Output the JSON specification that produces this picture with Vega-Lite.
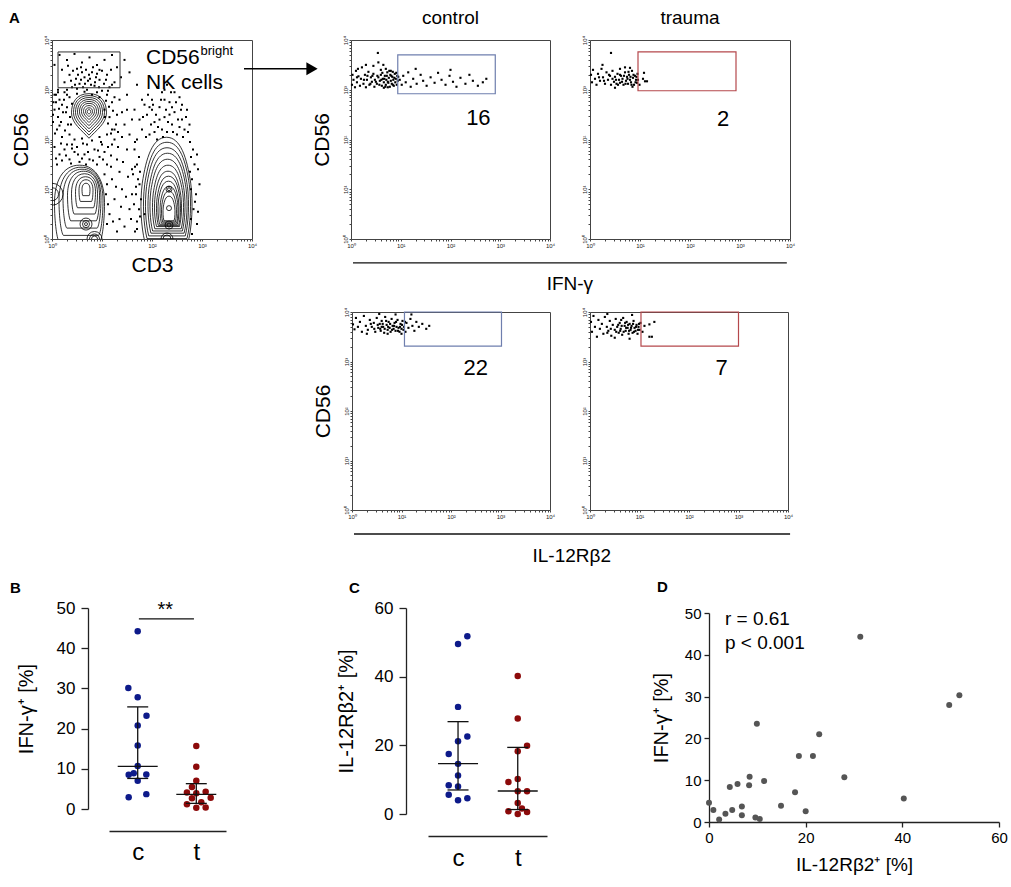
{
  "$schema": "https://vega.github.io/schema/vega-lite/v6.json",
  "padding": {"left": 8, "top": 8, "right": 5, "bottom": 5},
  "config": {
    "font": "Liberation Sans",
    "view": {"stroke": null},
    "axis": {"grid": false, "labelFont": "Liberation Sans", "titleFont": "Liberation Sans", "titleFontWeight": "normal", "labelColor": "#000", "titleColor": "#000", "domainColor": "#333", "tickColor": "#333"},
    "title": {"font": "Liberation Sans", "color": "#000"}
  },
  "datasets": {
    "ctrlIFN": [
      {"x":0.52,"y":3.12},{"x":0.55,"y":3.25},{"x":0.58,"y":3.18},{"x":0.6,"y":3.3},{"x":0.62,"y":3.08},{"x":0.64,"y":3.22},{"x":0.66,"y":3.15},{"x":0.68,"y":3.28},{"x":0.7,"y":3.1},{"x":0.71,"y":3.2},{"x":0.73,"y":3.35},{"x":0.75,"y":3.14},{"x":0.76,"y":3.24},{"x":0.78,"y":3.06},{"x":0.79,"y":3.3},{"x":0.8,"y":3.18},{"x":0.82,"y":3.12},{"x":0.83,"y":3.26},{"x":0.85,"y":3.2},{"x":0.86,"y":3.08},{"x":0.88,"y":3.32},{"x":0.89,"y":3.15},{"x":0.9,"y":3.22},{"x":0.92,"y":3.1},{"x":0.93,"y":3.28},{"x":0.94,"y":3.18},{"x":0.6,"y":3.4},{"x":0.7,"y":3.42},{"x":0.8,"y":3.38},{"x":0.66,"y":3.04},{"x":0.74,"y":3.05},{"x":0.84,"y":3.36},
      {"x":0.5,"y":3.16},{"x":0.53,"y":3.28},{"x":0.57,"y":3.1},{"x":0.61,"y":3.2},{"x":0.63,"y":3.34},{"x":0.67,"y":3.22},{"x":0.69,"y":3.06},{"x":0.72,"y":3.28},{"x":0.74,"y":3.16},{"x":0.77,"y":3.38},{"x":0.81,"y":3.28},{"x":0.84,"y":3.1},{"x":0.87,"y":3.24},{"x":0.91,"y":3.34},{"x":0.95,"y":3.26},{"x":0.43,"y":3.28},{"x":0.39,"y":3.12},{"x":0.33,"y":3.28},{"x":0.26,"y":3.2},{"x":0.12,"y":3.25},
      {"x":0.02,"y":3.1},{"x":0.03,"y":3.3},{"x":0.05,"y":3.2},{"x":0.08,"y":3.05},{"x":0.1,"y":3.38},{"x":0.12,"y":3.15},{"x":0.15,"y":3.27},{"x":0.18,"y":3.08},{"x":0.2,"y":3.22},{"x":0.22,"y":3.45},{"x":0.25,"y":3.12},{"x":0.28,"y":3.3},{"x":0.3,"y":3.05},{"x":0.32,"y":3.2},{"x":0.35,"y":3.36},{"x":0.37,"y":3.1},{"x":0.4,"y":3.25},{"x":0.42,"y":3.16},{"x":0.45,"y":3.32},{"x":0.47,"y":3.06},{"x":0.48,"y":3.2},{"x":0.3,"y":3.5},{"x":0.45,"y":3.48},{"x":0.55,"y":3.55},{"x":0.65,"y":3.5},{"x":0.54,"y":3.74},{"x":0.14,"y":3.42},
      {"x":0.98,"y":3.2},{"x":1.02,"y":3.1},{"x":1.05,"y":3.28},{"x":1.1,"y":3.15},{"x":1.15,"y":3.35},{"x":1.2,"y":3.06},{"x":1.25,"y":3.22},{"x":1.32,"y":3.12},{"x":1.4,"y":3.3},{"x":1.45,"y":3.18},{"x":1.52,"y":3.08},{"x":1.6,"y":3.25},{"x":1.68,"y":3.14},{"x":1.75,"y":3.34},{"x":1.82,"y":3.2},{"x":1.9,"y":3.1},{"x":1.98,"y":3.28},{"x":2.05,"y":3.16},{"x":2.12,"y":3.06},{"x":2.2,"y":3.24},{"x":2.3,"y":3.12},{"x":2.38,"y":3.3},{"x":2.45,"y":3.18},{"x":2.55,"y":3.08},{"x":2.65,"y":3.15},{"x":2.72,"y":3.22},{"x":1.3,"y":3.42},{"x":2.0,"y":3.4}
    ],
    "trIFN": [
      {"x":0.02,"y":3.3},{"x":0.04,"y":3.15},{"x":0.06,"y":3.4},{"x":0.1,"y":3.22},{"x":0.13,"y":3.1},{"x":0.16,"y":3.32},{"x":0.2,"y":3.18},{"x":0.23,"y":3.42},{"x":0.26,"y":3.25},{"x":0.3,"y":3.12},{"x":0.33,"y":3.35},{"x":0.36,"y":3.2},{"x":0.4,"y":3.28},{"x":0.42,"y":3.1},{"x":0.45,"y":3.38},{"x":0.48,"y":3.16},{"x":0.5,"y":3.26},{"x":0.53,"y":3.12},{"x":0.55,"y":3.32},{"x":0.58,"y":3.2},{"x":0.6,"y":3.14},{"x":0.62,"y":3.28},{"x":0.65,"y":3.22},{"x":0.67,"y":3.1},{"x":0.7,"y":3.35},{"x":0.72,"y":3.18},{"x":0.74,"y":3.26},{"x":0.76,"y":3.12},{"x":0.78,"y":3.3},{"x":0.8,"y":3.2},{"x":0.82,"y":3.15},{"x":0.84,"y":3.38},{"x":0.86,"y":3.24},{"x":0.88,"y":3.1},{"x":0.9,"y":3.28},{"x":0.92,"y":3.2},{"x":0.94,"y":3.14},{"x":0.95,"y":3.32},{"x":0.6,"y":3.42},{"x":0.7,"y":3.45},{"x":0.8,"y":3.44},{"x":0.42,"y":3.74},{"x":0.25,"y":3.5},{"x":0.85,"y":3.06},{"x":0.5,"y":3.04},
      {"x":0.52,"y":3.2},{"x":0.56,"y":3.1},{"x":0.6,"y":3.3},{"x":0.64,"y":3.16},{"x":0.68,"y":3.28},{"x":0.71,"y":3.12},{"x":0.75,"y":3.22},{"x":0.77,"y":3.36},{"x":0.81,"y":3.26},{"x":0.83,"y":3.1},{"x":0.87,"y":3.3},{"x":0.91,"y":3.15},{"x":0.93,"y":3.26},{"x":0.96,"y":3.2},{"x":0.45,"y":3.22},{"x":0.38,"y":3.3},{"x":0.28,"y":3.18},{"x":0.18,"y":3.25},
      {"x":1.06,"y":3.22},{"x":1.1,"y":3.17},{"x":1.14,"y":3.17},{"x":1.08,"y":3.34},{"x":0.99,"y":3.1}
    ],
    "ctrlIL": [
      {"x":0.02,"y":3.75},{"x":0.05,"y":3.65},{"x":0.08,"y":3.88},{"x":0.12,"y":3.7},{"x":0.16,"y":3.8},{"x":0.2,"y":3.6},{"x":0.24,"y":3.92},{"x":0.28,"y":3.72},{"x":0.32,"y":3.64},{"x":0.36,"y":3.84},{"x":0.4,"y":3.7},{"x":0.44,"y":3.78},{"x":0.47,"y":3.6},{"x":0.5,"y":3.88},{"x":0.53,"y":3.68},{"x":0.56,"y":3.76},{"x":0.58,"y":3.62},{"x":0.6,"y":3.82},{"x":0.63,"y":3.7},{"x":0.65,"y":3.58},{"x":0.67,"y":3.9},{"x":0.7,"y":3.74},{"x":0.72,"y":3.64},{"x":0.74,"y":3.8},{"x":0.76,"y":3.68},{"x":0.78,"y":3.6},{"x":0.8,"y":3.86},{"x":0.82,"y":3.72},{"x":0.84,"y":3.66},{"x":0.86,"y":3.78},{"x":0.88,"y":3.62},{"x":0.9,"y":3.7},{"x":0.92,"y":3.84},{"x":0.94,"y":3.68},{"x":0.96,"y":3.6},{"x":0.98,"y":3.76},{"x":1.0,"y":3.66},{"x":1.02,"y":3.82},{"x":1.05,"y":3.7},{"x":1.08,"y":3.6},{"x":1.1,"y":3.78},{"x":1.14,"y":3.68},{"x":1.18,"y":3.86},{"x":1.22,"y":3.72},{"x":1.26,"y":3.62},{"x":1.3,"y":3.8},{"x":1.35,"y":3.7},{"x":1.42,"y":3.76},{"x":1.5,"y":3.66},{"x":1.56,"y":3.72},{"x":0.88,"y":3.95},{"x":0.55,"y":3.96},{"x":1.2,"y":3.95},{"x":0.3,"y":3.56},{"x":0.72,"y":3.56},{"x":1.0,"y":3.56},
      {"x":0.52,"y":3.74},{"x":0.57,"y":3.66},{"x":0.62,"y":3.76},{"x":0.66,"y":3.66},{"x":0.69,"y":3.82},{"x":0.73,"y":3.7},{"x":0.77,"y":3.76},{"x":0.81,"y":3.64},{"x":0.85,"y":3.72},{"x":0.89,"y":3.8},{"x":0.93,"y":3.62},{"x":0.97,"y":3.7},{"x":1.01,"y":3.74},{"x":1.04,"y":3.64},{"x":1.07,"y":3.8},{"x":0.45,"y":3.66},{"x":0.38,"y":3.76},{"x":0.6,"y":3.7}
    ],
    "trIL": [
      {"x":0.02,"y":3.8},{"x":0.04,"y":3.6},{"x":0.07,"y":3.92},{"x":0.1,"y":3.7},{"x":0.14,"y":3.5},{"x":0.17,"y":3.84},{"x":0.2,"y":3.66},{"x":0.24,"y":3.76},{"x":0.27,"y":3.56},{"x":0.3,"y":3.9},{"x":0.34,"y":3.7},{"x":0.37,"y":3.62},{"x":0.4,"y":3.82},{"x":0.43,"y":3.52},{"x":0.46,"y":3.74},{"x":0.5,"y":3.64},{"x":0.52,"y":3.86},{"x":0.55,"y":3.7},{"x":0.58,"y":3.58},{"x":0.6,"y":3.78},{"x":0.62,"y":3.66},{"x":0.65,"y":3.54},{"x":0.67,"y":3.88},{"x":0.7,"y":3.72},{"x":0.72,"y":3.62},{"x":0.74,"y":3.8},{"x":0.76,"y":3.68},{"x":0.78,"y":3.56},{"x":0.8,"y":3.76},{"x":0.82,"y":3.64},{"x":0.84,"y":3.72},{"x":0.86,"y":3.58},{"x":0.88,"y":3.82},{"x":0.9,"y":3.68},{"x":0.92,"y":3.62},{"x":0.94,"y":3.74},{"x":0.96,"y":3.56},{"x":0.98,"y":3.7},{"x":1.0,"y":3.64},{"x":1.02,"y":3.78},{"x":1.06,"y":3.6},{"x":1.1,"y":3.72},{"x":1.2,"y":3.75},{"x":1.3,"y":3.8},{"x":1.2,"y":3.5},{"x":1.25,"y":3.5},{"x":0.5,"y":3.48},{"x":0.8,"y":3.46},{"x":0.35,"y":3.96},{"x":0.85,"y":3.94},
      {"x":0.53,"y":3.6},{"x":0.57,"y":3.74},{"x":0.61,"y":3.62},{"x":0.64,"y":3.72},{"x":0.68,"y":3.6},{"x":0.71,"y":3.78},{"x":0.73,"y":3.68},{"x":0.77,"y":3.74},{"x":0.79,"y":3.62},{"x":0.83,"y":3.68},{"x":0.87,"y":3.76},{"x":0.89,"y":3.6},{"x":0.93,"y":3.7},{"x":0.97,"y":3.64},{"x":0.99,"y":3.76},{"x":0.42,"y":3.66},{"x":0.35,"y":3.58},{"x":0.63,"y":3.84}
    ],
    "aDots": [
      {"x":0.15,"y":3.7},{"x":0.3,"y":3.6},{"x":0.45,"y":3.72},{"x":0.6,"y":3.55},{"x":0.75,"y":3.65},{"x":0.9,"y":3.5},{"x":1.05,"y":3.6},{"x":1.2,"y":3.7},{"x":1.3,"y":3.45},{"x":0.2,"y":3.4},{"x":0.35,"y":3.3},{"x":0.5,"y":3.42},{"x":0.65,"y":3.25},{"x":0.8,"y":3.35},{"x":0.95,"y":3.2},{"x":1.1,"y":3.3},{"x":1.25,"y":3.15},{"x":0.25,"y":3.15},{"x":0.4,"y":3.05},{"x":0.55,"y":3.12},{"x":0.7,"y":3.0},{"x":0.85,"y":3.08},{"x":1.0,"y":2.98},{"x":1.15,"y":3.05},{"x":0.6,"y":3.35},{"x":0.72,"y":3.18},{"x":0.88,"y":3.25},{"x":0.48,"y":3.22},{"x":0.78,"y":3.1},{"x":0.62,"y":3.05},{"x":0.95,"y":3.4},{"x":1.38,"y":3.25},{"x":0.12,"y":3.0},{"x":0.05,"y":3.5},{"x":1.45,"y":3.6},{"x":1.55,"y":3.35},{"x":1.7,"y":3.1},
      {"x":0.32,"y":3.48},{"x":0.42,"y":3.38},{"x":0.52,"y":3.3},{"x":0.58,"y":3.45},{"x":0.68,"y":3.4},{"x":0.74,"y":3.3},{"x":0.82,"y":3.45},{"x":0.9,"y":3.32},{"x":1.0,"y":3.38},{"x":1.08,"y":3.2},{"x":1.18,"y":3.4},{"x":0.38,"y":3.18},{"x":0.46,"y":3.1},{"x":0.58,"y":3.2},{"x":0.66,"y":3.12},{"x":0.76,"y":3.22},{"x":0.86,"y":3.15},{"x":0.94,"y":3.05},{"x":1.04,"y":3.12},{"x":1.2,"y":3.1},{"x":0.3,"y":3.0},{"x":0.5,"y":3.02},{"x":0.9,"y":2.95},{"x":1.12,"y":2.98},
      {"x":0.05,"y":2.9},{"x":0.15,"y":2.8},{"x":0.25,"y":2.95},{"x":0.35,"y":2.85},{"x":0.5,"y":2.92},{"x":0.65,"y":2.96},{"x":0.8,"y":2.9},{"x":0.95,"y":2.85},{"x":1.1,"y":2.9},{"x":1.2,"y":2.75},{"x":0.05,"y":2.6},{"x":0.12,"y":2.45},{"x":0.2,"y":2.7},{"x":0.28,"y":2.55},{"x":0.32,"y":2.3},{"x":0.1,"y":2.2},{"x":0.2,"y":2.05},{"x":0.35,"y":2.1},{"x":0.45,"y":2.0},{"x":1.05,"y":2.6},{"x":1.15,"y":2.45},{"x":1.2,"y":2.2},{"x":1.1,"y":2.1},{"x":1.25,"y":2.0},{"x":0.95,"y":2.05},{"x":0.8,"y":1.98},{"x":0.6,"y":2.02},{"x":0.4,"y":1.9},{"x":1.3,"y":2.5},{"x":1.35,"y":2.8},{"x":0.02,"y":2.35},{"x":0.08,"y":2.75},
      {"x":0.02,"y":2.5},{"x":0.08,"y":2.9},{"x":0.14,"y":2.62},{"x":0.18,"y":2.35},{"x":0.24,"y":2.8},{"x":0.3,"y":2.65},{"x":0.36,"y":2.45},{"x":0.4,"y":2.72},{"x":0.06,"y":2.12},{"x":0.15,"y":2.28},{"x":0.26,"y":2.18},{"x":0.38,"y":2.3},{"x":0.03,"y":2.75},{"x":0.22,"y":2.55},{"x":0.12,"y":2.95},{"x":0.3,"y":2.9},
      {"x":1.08,"y":2.78},{"x":1.14,"y":2.66},{"x":1.22,"y":2.58},{"x":1.12,"y":2.32},{"x":1.28,"y":2.3},{"x":1.18,"y":2.12},{"x":1.32,"y":2.15},{"x":1.06,"y":2.45},{"x":1.25,"y":2.85},
      {"x":0.05,"y":1.85},{"x":0.15,"y":1.7},{"x":0.25,"y":1.8},{"x":0.35,"y":1.6},{"x":0.45,"y":1.75},{"x":0.55,"y":1.55},{"x":0.65,"y":1.7},{"x":0.75,"y":1.6},{"x":0.85,"y":1.8},{"x":0.95,"y":1.65},{"x":1.05,"y":1.75},{"x":0.1,"y":1.5},{"x":0.3,"y":1.9},{"x":0.5,"y":1.85},{"x":0.7,"y":1.9},{"x":0.9,"y":1.5},{"x":1.1,"y":1.5},{"x":0.2,"y":1.58},{"x":0.6,"y":1.62},{"x":1.0,"y":1.9},
      {"x":0.08,"y":1.62},{"x":0.18,"y":1.92},{"x":0.28,"y":1.68},{"x":0.4,"y":1.82},{"x":0.52,"y":1.7},{"x":0.62,"y":1.92},{"x":0.72,"y":1.75},{"x":0.82,"y":1.58},{"x":0.92,"y":1.78},{"x":1.02,"y":1.6},{"x":1.12,"y":1.85},{"x":0.38,"y":1.52},{"x":0.68,"y":1.5},{"x":0.98,"y":1.95},{"x":1.18,"y":1.68},
      {"x":1.2,"y":1.2},{"x":1.25,"y":0.8},{"x":1.3,"y":1.6},{"x":1.35,"y":0.4},{"x":1.4,"y":1.0},{"x":1.45,"y":2.3},{"x":1.5,"y":1.8},{"x":1.55,"y":0.6},{"x":1.6,"y":1.4},{"x":1.65,"y":2.6},{"x":1.7,"y":0.2},{"x":1.7,"y":2.0},{"x":1.75,"y":1.1},{"x":1.5,"y":2.9},{"x":1.4,"y":2.55},{"x":1.15,"y":0.5},{"x":1.3,"y":0.15},{"x":1.6,"y":0.9},{"x":1.45,"y":0.25},{"x":1.2,"y":1.9},{"x":1.8,"y":2.8},{"x":1.85,"y":0.5},{"x":1.1,"y":1.1},{"x":1.35,"y":1.35},
      {"x":1.12,"y":0.7},{"x":1.18,"y":1.45},{"x":1.22,"y":0.35},{"x":1.28,"y":1.05},{"x":1.32,"y":1.85},{"x":1.38,"y":0.65},{"x":1.42,"y":1.55},{"x":1.48,"y":0.85},{"x":1.52,"y":1.25},{"x":1.55,"y":2.1},{"x":1.58,"y":0.4},{"x":1.25,"y":2.2},{"x":1.4,"y":2.05},{"x":1.6,"y":2.4},{"x":1.5,"y":2.6},
      {"x":1.8,"y":2.2},{"x":1.9,"y":2.5},{"x":1.95,"y":2.1},{"x":2.0,"y":2.8},{"x":2.05,"y":2.35},{"x":2.1,"y":2.0},{"x":2.15,"y":2.65},{"x":2.2,"y":2.95},{"x":2.25,"y":2.45},{"x":2.3,"y":2.15},{"x":2.35,"y":2.75},{"x":2.4,"y":2.3},{"x":2.45,"y":2.55},{"x":2.5,"y":2.1},{"x":2.55,"y":2.85},{"x":2.6,"y":2.4},{"x":2.65,"y":2.2},{"x":2.7,"y":2.6},{"x":2.1,"y":3.05},{"x":2.3,"y":3.1},{"x":2.45,"y":2.95},{"x":2.0,"y":2.6},{"x":2.2,"y":2.2},{"x":2.35,"y":2.5},{"x":1.85,"y":2.7},{"x":1.75,"y":2.4},{"x":2.75,"y":2.3},{"x":2.6,"y":2.7},{"x":2.25,"y":2.8},{"x":2.05,"y":2.15},
      {"x":1.82,"y":2.45},{"x":1.88,"y":2.05},{"x":1.92,"y":2.9},{"x":1.98,"y":2.3},{"x":2.02,"y":2.7},{"x":2.08,"y":2.5},{"x":2.12,"y":2.25},{"x":2.18,"y":2.8},{"x":2.22,"y":2.05},{"x":2.28,"y":2.6},{"x":2.32,"y":2.35},{"x":2.38,"y":2.95},{"x":2.42,"y":2.15},{"x":2.48,"y":2.75},{"x":2.52,"y":2.4},{"x":2.58,"y":2.6},{"x":2.62,"y":2.05},{"x":2.68,"y":2.45},{"x":2.72,"y":2.15},{"x":2.15,"y":2.4},{"x":2.4,"y":2.65},{"x":2.25,"y":3.0},{"x":1.95,"y":2.65},{"x":2.55,"y":2.25},
      {"x":1.65,"y":1.8},{"x":1.7,"y":1.5},{"x":1.72,"y":1.2},{"x":1.68,"y":0.9},{"x":1.74,"y":0.6},{"x":1.7,"y":0.35},{"x":2.82,"y":1.8},{"x":2.85,"y":1.5},{"x":2.8,"y":1.2},{"x":2.88,"y":0.9},{"x":2.83,"y":0.6},{"x":2.9,"y":0.3},{"x":2.95,"y":1.1},{"x":1.62,"y":1.3},{"x":1.08,"y":0.9},{"x":1.1,"y":0.3},{"x":1.05,"y":1.3},
      {"x":1.66,"y":1.95},{"x":1.74,"y":1.65},{"x":1.66,"y":1.45},{"x":1.76,"y":1.35},{"x":1.68,"y":1.05},{"x":1.78,"y":0.8},{"x":1.64,"y":0.7},{"x":1.76,"y":0.45},{"x":1.66,"y":0.15},{"x":2.76,"y":1.95},{"x":2.78,"y":1.65},{"x":2.9,"y":1.7},{"x":2.76,"y":1.35},{"x":2.92,"y":1.4},{"x":2.78,"y":1.0},{"x":2.86,"y":0.75},{"x":2.78,"y":0.4},{"x":2.92,"y":0.55},{"x":2.8,"y":0.1}
    ],
    "contours": [
      {"blob":"nk","x":0.74,"y":2.535,"r":0.35},{"blob":"nk","x":0.74,"y":2.54,"r":0.31},{"blob":"nk","x":0.74,"y":2.545,"r":0.27},{"blob":"nk","x":0.74,"y":2.55,"r":0.23},{"blob":"nk","x":0.74,"y":2.555,"r":0.19},{"blob":"nk","x":0.74,"y":2.56,"r":0.15},{"blob":"nk","x":0.74,"y":2.56,"r":0.11},{"blob":"nk","x":0.74,"y":2.56,"r":0.07},{"blob":"nk","x":0.74,"y":2.56,"r":0.035},
      {"blob":"ll","x":0.55,"y":0.73,"r":0.5},{"blob":"ll","x":0.58,"y":0.78,"r":0.44},{"blob":"ll","x":0.6,"y":0.83,"r":0.38},{"blob":"ll","x":0.63,"y":0.88,"r":0.32},{"blob":"ll","x":0.65,"y":0.92,"r":0.26},{"blob":"ll","x":0.67,"y":0.95,"r":0.2},{"blob":"ll","x":0.68,"y":0.98,"r":0.14},{"blob":"ll","x":0.68,"y":1.0,"r":0.08},
      {"blob":"t","x":2.29,"y":1.02,"r":0.51},{"blob":"t","x":2.3,"y":1.0,"r":0.47},{"blob":"t","x":2.3,"y":0.97,"r":0.43},{"blob":"t","x":2.31,"y":0.94,"r":0.39},{"blob":"t","x":2.31,"y":0.9,"r":0.35},{"blob":"t","x":2.32,"y":0.86,"r":0.31},{"blob":"t","x":2.32,"y":0.82,"r":0.27},{"blob":"t","x":2.33,"y":0.78,"r":0.24},{"blob":"t","x":2.33,"y":0.74,"r":0.21},{"blob":"t","x":2.34,"y":0.7,"r":0.18},{"blob":"t","x":2.34,"y":0.66,"r":0.15},{"blob":"t","x":2.34,"y":0.62,"r":0.12},
      {"blob":"round","x":2.34,"y":1.0,"r":0.06},{"blob":"round","x":2.34,"y":1.0,"r":0.03},{"blob":"round","x":2.34,"y":0.28,"r":0.08},{"blob":"round","x":2.34,"y":0.28,"r":0.04},{"blob":"round","x":2.34,"y":0.62,"r":0.05},{"blob":"round","x":2.3,"y":0.0,"r":0.12},{"blob":"round","x":2.3,"y":0.0,"r":0.08},
      {"blob":"round","x":0.68,"y":0.3,"r":0.12},{"blob":"round","x":0.68,"y":0.3,"r":0.07},{"blob":"round","x":0.68,"y":0.3,"r":0.03},{"blob":"round","x":0.0,"y":0.9,"r":0.22},{"blob":"round","x":0.0,"y":0.9,"r":0.13},{"blob":"round","x":0.85,"y":0.0,"r":0.15},{"blob":"round","x":0.85,"y":0.0,"r":0.1},{"blob":"round","x":0.85,"y":0.0,"r":0.06}
    ],
    "gates": [
      {"panel":"A","x":0.12,"x2":1.36,"y":3.04,"y2":3.76},
      {"panel":"ctrlIFN","x":0.94,"x2":2.9,"y":2.92,"y2":3.7},
      {"panel":"trIFN","x":0.96,"x2":2.92,"y":2.98,"y2":3.76},
      {"panel":"ctrlIL","x":1.06,"x2":3.02,"y":3.31,"y2":4.0},
      {"panel":"trIL","x":1.03,"x2":3.0,"y":3.31,"y2":4.0}
    ],
    "gateLabels": [
      {"panel":"ctrlIFN","x":2.56,"y":2.44,"label":"16"},
      {"panel":"trIFN","x":2.66,"y":2.42,"label":"2"},
      {"panel":"ctrlIL","x":2.5,"y":2.87,"label":"22"},
      {"panel":"trIL","x":2.66,"y":2.87,"label":"7"}
    ],
    "bDots": [
      {"group":"c","pos":1.0,"val":44.2},{"group":"c","pos":0.84,"val":30.1},{"group":"c","pos":1.0,"val":27.8},{"group":"c","pos":1.15,"val":23.2},{"group":"c","pos":1.0,"val":20.8},{"group":"c","pos":1.0,"val":15.8},{"group":"c","pos":1.0,"val":10.7},{"group":"c","pos":0.846,"val":8.5},{"group":"c","pos":0.932,"val":8.9},{"group":"c","pos":1.147,"val":8.6},{"group":"c","pos":1.0,"val":7.0},{"group":"c","pos":0.846,"val":2.9},{"group":"c","pos":1.147,"val":3.7},
      {"group":"t","pos":2.0,"val":15.7},{"group":"t","pos":2.0,"val":10.5},{"group":"t","pos":2.0,"val":7.0},{"group":"t","pos":1.926,"val":5.5},{"group":"t","pos":1.84,"val":4.1},{"group":"t","pos":2.16,"val":4.3},{"group":"t","pos":2.0,"val":3.9},{"group":"t","pos":1.926,"val":2.7},{"group":"t","pos":2.246,"val":2.8},{"group":"t","pos":2.085,"val":1.7},{"group":"t","pos":1.84,"val":1.2},{"group":"t","pos":2.0,"val":0.3},{"group":"t","pos":2.16,"val":0.4}
    ],
    "bStats": [
      {"group":"c","pos":1,"median":10.6,"q1":7.6,"q3":25.4},
      {"group":"t","pos":2,"median":3.65,"q1":1.4,"q3":6.3}
    ],
    "cDots": [
      {"group":"c","pos":1.156,"val":51.8},{"group":"c","pos":1.0,"val":49.5},{"group":"c","pos":1.0,"val":31.2},{"group":"c","pos":1.156,"val":22.6},{"group":"c","pos":1.0,"val":21.2},{"group":"c","pos":0.844,"val":17.5},{"group":"c","pos":1.0,"val":14.6},{"group":"c","pos":1.0,"val":11.2},{"group":"c","pos":0.844,"val":8.4},{"group":"c","pos":1.0,"val":8.0},{"group":"c","pos":0.844,"val":5.6},{"group":"c","pos":1.0,"val":4.0},{"group":"c","pos":1.156,"val":4.6},
      {"group":"t","pos":2.0,"val":40.2},{"group":"t","pos":2.0,"val":27.8},{"group":"t","pos":2.156,"val":19.9},{"group":"t","pos":2.0,"val":18.3},{"group":"t","pos":2.0,"val":10.2},{"group":"t","pos":1.844,"val":9.3},{"group":"t","pos":2.0,"val":6.6},{"group":"t","pos":2.156,"val":6.6},{"group":"t","pos":2.0,"val":3.2},{"group":"t","pos":1.844,"val":0.8},{"group":"t","pos":2.0,"val":0.0},{"group":"t","pos":2.156,"val":0.6},{"group":"t","pos":2.07,"val":1.6}
    ],
    "cStats": [
      {"group":"c","pos":1,"median":14.7,"q1":7.0,"q3":26.9},
      {"group":"t","pos":2,"median":6.7,"q1":1.3,"q3":19.4}
    ],
    "dDots": [
      {"il":0,"ifn":4.6},{"il":0.9,"ifn":2.9},{"il":2.1,"ifn":0.6},{"il":3.4,"ifn":2.0},{"il":4.3,"ifn":8.4},{"il":4.8,"ifn":2.9},{"il":5.9,"ifn":9.1},{"il":6.8,"ifn":3.7},{"il":6.8,"ifn":1.6},{"il":8.3,"ifn":8.8},{"il":8.4,"ifn":10.8},{"il":9.6,"ifn":1.1},{"il":9.9,"ifn":23.5},{"il":10.5,"ifn":0.7},{"il":11.4,"ifn":9.8},{"il":14.9,"ifn":3.9},{"il":17.8,"ifn":7.1},{"il":18.6,"ifn":15.8},{"il":20.0,"ifn":2.6},{"il":21.5,"ifn":15.8},{"il":22.8,"ifn":21.0},{"il":28.0,"ifn":10.7},{"il":31.3,"ifn":44.3},{"il":40.3,"ifn":5.6},{"il":49.7,"ifn":28.0},{"il":51.8,"ifn":30.3}
    ]
  },
  "spacing": 13,
  "vconcat": [
    {
      "spacing": 11,
      "vconcat": [
        {
          "bounds": "flush",
          "spacing": 40,
          "hconcat": [
            {
              "width": 200,
              "height": 199,
              "title": {"text": "A", "anchor": "start", "frame": "group", "dx": -43, "fontSize": 15, "fontWeight": "bold", "offset": 9},
              "view": {"stroke": "#444", "strokeWidth": 1},
              "encoding": {
                "x": {"field": "x", "type": "quantitative", "scale": {"domain": [0, 4], "nice": false, "zero": false}, "title": "CD3",
                  "axis": {"values": [0,0.301,0.477,0.602,0.699,0.778,0.845,0.903,0.954,1,1.301,1.477,1.602,1.699,1.778,1.845,1.903,1.954,2,2.301,2.477,2.602,2.699,2.778,2.845,2.903,2.954,3,3.301,3.477,3.602,3.699,3.778,3.845,3.903,3.954,4], "labelExpr": "datum.value % 1 === 0 ? '10' + ['⁰','¹','²','³','⁴'][datum.value] : ''", "labelFontSize": 6, "labelColor": "#222", "tickSize": 2, "tickColor": "#444", "labelPadding": 1, "domain": false, "labelFlush": false, "labelOverlap": false, "titleFontSize": 21, "titlePadding": 6}},
                "y": {"field": "y", "type": "quantitative", "scale": {"domain": [0, 4], "nice": false, "zero": false}, "title": "CD56",
                  "axis": {"values": [0,0.301,0.477,0.602,0.699,0.778,0.845,0.903,0.954,1,1.301,1.477,1.602,1.699,1.778,1.845,1.903,1.954,2,2.301,2.477,2.602,2.699,2.778,2.845,2.903,2.954,3,3.301,3.477,3.602,3.699,3.778,3.845,3.903,3.954,4], "labelExpr": "datum.value % 1 === 0 ? '10' + ['⁰','¹','²','³','⁴'][datum.value] : ''", "labelFontSize": 6, "labelColor": "#222", "tickSize": 2, "tickColor": "#444", "labelPadding": 1, "domain": false, "labelAngle": 270, "labelAlign": "center", "labelBaseline": "bottom", "labelFlush": false, "labelOverlap": false, "titleFontSize": 21, "titlePadding": 12}}
              },
              "layer": [
                {"data": {"name": "aDots"}, "mark": {"type": "point", "shape": "square", "filled": true, "size": 4, "color": "#000", "opacity": 1}},
                {"data": {"name": "gates"}, "transform": [{"filter": "datum.panel === 'A'"}], "mark": {"type": "rect", "fillOpacity": 0, "stroke": "#333", "strokeWidth": 1}, "encoding": {"x2": {"field": "x2"}, "y2": {"field": "y2"}}},
                {"data": {"name": "contours"}, "transform": [{"filter": "datum.blob === 'nk'"}], "mark": {"type": "point", "shape": "M0,-1.1C0.75,-1.1 1,-0.55 1,0C1,0.6 0.4,1 0,1.45C-0.4,1 -1,0.6 -1,0C-1,-0.55 -0.75,-1.1 0,-1.1Z", "filled": false, "color": "#000", "strokeWidth": 0.8, "opacity": 1, "clip": true},
                  "encoding": {"size": {"field": "r", "type": "quantitative", "scale": {"type": "pow", "exponent": 2, "domain": [0, 1], "range": [0, 10000]}, "legend": null}}},
                {"data": {"name": "contours"}, "transform": [{"filter": "datum.blob === 'll'"}], "mark": {"type": "point", "shape": "M0,-1.5C0.7,-1.5 1,-0.8 1,0C1,0.8 0.9,1.5 0.8,1.6L-0.8,1.6C-0.9,1.5 -1,0.8 -1,0C-1,-0.8 -0.7,-1.5 0,-1.5Z", "filled": false, "color": "#000", "strokeWidth": 0.8, "opacity": 1, "clip": true},
                  "encoding": {"size": {"field": "r", "type": "quantitative", "scale": {"type": "pow", "exponent": 2, "domain": [0, 1], "range": [0, 10000]}, "legend": null}}},
                {"data": {"name": "contours"}, "transform": [{"filter": "datum.blob === 't'"}], "mark": {"type": "point", "shape": "M0,-2C0.55,-2 0.8,-1.2 0.95,-0.2C1.05,0.6 1,1.5 0.85,2.1L-0.85,2.1C-1,1.5 -1.05,0.6 -0.95,-0.2C-0.8,-1.2 -0.55,-2 0,-2Z", "filled": false, "color": "#000", "strokeWidth": 0.8, "opacity": 1, "clip": true},
                  "encoding": {"size": {"field": "r", "type": "quantitative", "scale": {"type": "pow", "exponent": 2, "domain": [0, 1], "range": [0, 10000]}, "legend": null}}},
                {"data": {"name": "contours"}, "transform": [{"filter": "datum.blob === 'round'"}], "mark": {"type": "point", "shape": "circle", "filled": false, "color": "#000", "strokeWidth": 0.8, "opacity": 1, "clip": true},
                  "encoding": {"size": {"field": "r", "type": "quantitative", "scale": {"type": "pow", "exponent": 2, "domain": [0, 1], "range": [0, 10000]}, "legend": null}}},
                {"data": {"values": [{"x": 1.88, "y": 3.64, "label": "CD56"}, {"x": 1.88, "y": 3.14, "label": "NK cells"}]}, "mark": {"type": "text", "align": "left", "baseline": "middle", "fontSize": 21}, "encoding": {"text": {"field": "label"}}},
                {"data": {"values": [{"x": 2.97, "y": 3.78, "label": "bright"}]}, "mark": {"type": "text", "align": "left", "baseline": "middle", "fontSize": 13}, "encoding": {"text": {"field": "label"}}},
                {"data": {"values": [{"x": 3.84, "x2": 5.1, "y": 3.42}]}, "mark": {"type": "rule", "color": "#000", "strokeWidth": 1.5}, "encoding": {"x2": {"field": "x2"}}},
                {"data": {"values": [{"x": 5.2, "y": 3.42}]}, "mark": {"type": "point", "shape": "triangle-right", "filled": true, "color": "#000", "size": 170, "opacity": 1}}
              ]
            },
            {"width": 19, "height": 1, "data": {"values": [{"v": 0}]}, "mark": {"type": "point", "opacity": 0}},
            {
              "width": 199,
              "height": 199,
              "title": {"text": "control", "fontSize": 19, "fontWeight": "normal", "offset": 7},
              "view": {"stroke": "#444", "strokeWidth": 1},
              "data": {"name": "ctrlIFN"},
              "encoding": {
                "x": {"field": "x", "type": "quantitative", "scale": {"domain": [0, 4], "nice": false, "zero": false}, "title": null,
                  "axis": {"values": [0,0.301,0.477,0.602,0.699,0.778,0.845,0.903,0.954,1,1.301,1.477,1.602,1.699,1.778,1.845,1.903,1.954,2,2.301,2.477,2.602,2.699,2.778,2.845,2.903,2.954,3,3.301,3.477,3.602,3.699,3.778,3.845,3.903,3.954,4], "labelExpr": "datum.value % 1 === 0 ? '10' + ['⁰','¹','²','³','⁴'][datum.value] : ''", "labelFontSize": 6, "labelColor": "#222", "tickSize": 2, "tickColor": "#444", "labelPadding": 1, "domain": false, "labelFlush": false, "labelOverlap": false}},
                "y": {"field": "y", "type": "quantitative", "scale": {"domain": [0, 4], "nice": false, "zero": false}, "title": "CD56",
                  "axis": {"values": [0,0.301,0.477,0.602,0.699,0.778,0.845,0.903,0.954,1,1.301,1.477,1.602,1.699,1.778,1.845,1.903,1.954,2,2.301,2.477,2.602,2.699,2.778,2.845,2.903,2.954,3,3.301,3.477,3.602,3.699,3.778,3.845,3.903,3.954,4], "labelExpr": "datum.value % 1 === 0 ? '10' + ['⁰','¹','²','³','⁴'][datum.value] : ''", "labelFontSize": 6, "labelColor": "#222", "tickSize": 2, "tickColor": "#444", "labelPadding": 1, "domain": false, "labelAngle": 270, "labelAlign": "center", "labelBaseline": "bottom", "labelFlush": false, "labelOverlap": false, "titleFontSize": 21, "titlePadding": 10}}
              },
              "layer": [
                {"mark": {"type": "point", "shape": "square", "filled": true, "size": 4.5, "color": "#000", "opacity": 1}},
                {"data": {"name": "gates"}, "transform": [{"filter": "datum.panel === 'ctrlIFN'"}], "mark": {"type": "rect", "fillOpacity": 0, "stroke": "#6f7fae", "strokeWidth": 1.2}, "encoding": {"x2": {"field": "x2"}, "y2": {"field": "y2"}}},
                {"data": {"name": "gateLabels"}, "transform": [{"filter": "datum.panel === 'ctrlIFN'"}], "mark": {"type": "text", "fontSize": 22, "baseline": "middle"}, "encoding": {"text": {"field": "label"}}},
                {"data": {"values": [{"x": 0.04, "x2": 8.76, "y": -0.48}]}, "mark": {"type": "rule", "color": "#111", "strokeWidth": 1.3}, "encoding": {"x2": {"field": "x2"}}},
                {"data": {"values": [{"x": 4.4, "y": -0.9, "label": "IFN-γ"}]}, "mark": {"type": "text", "fontSize": 19, "baseline": "middle"}, "encoding": {"text": {"field": "label"}}}
              ]
            },
            {
              "width": 200,
              "height": 199,
              "title": {"text": "trauma", "fontSize": 19, "fontWeight": "normal", "offset": 7},
              "view": {"stroke": "#444", "strokeWidth": 1},
              "data": {"name": "trIFN"},
              "encoding": {
                "x": {"field": "x", "type": "quantitative", "scale": {"domain": [0, 4], "nice": false, "zero": false}, "title": null,
                  "axis": {"values": [0,0.301,0.477,0.602,0.699,0.778,0.845,0.903,0.954,1,1.301,1.477,1.602,1.699,1.778,1.845,1.903,1.954,2,2.301,2.477,2.602,2.699,2.778,2.845,2.903,2.954,3,3.301,3.477,3.602,3.699,3.778,3.845,3.903,3.954,4], "labelExpr": "datum.value % 1 === 0 ? '10' + ['⁰','¹','²','³','⁴'][datum.value] : ''", "labelFontSize": 6, "labelColor": "#222", "tickSize": 2, "tickColor": "#444", "labelPadding": 1, "domain": false, "labelFlush": false, "labelOverlap": false}},
                "y": {"field": "y", "type": "quantitative", "scale": {"domain": [0, 4], "nice": false, "zero": false}, "title": null,
                  "axis": {"values": [0,0.301,0.477,0.602,0.699,0.778,0.845,0.903,0.954,1,1.301,1.477,1.602,1.699,1.778,1.845,1.903,1.954,2,2.301,2.477,2.602,2.699,2.778,2.845,2.903,2.954,3,3.301,3.477,3.602,3.699,3.778,3.845,3.903,3.954,4], "labelExpr": "datum.value % 1 === 0 ? '10' + ['⁰','¹','²','³','⁴'][datum.value] : ''", "labelFontSize": 6, "labelColor": "#222", "tickSize": 2, "tickColor": "#444", "labelPadding": 1, "domain": false, "labelAngle": 270, "labelAlign": "center", "labelBaseline": "bottom", "labelFlush": false, "labelOverlap": false}}
              },
              "layer": [
                {"mark": {"type": "point", "shape": "square", "filled": true, "size": 4.5, "color": "#000", "opacity": 1}},
                {"data": {"name": "gates"}, "transform": [{"filter": "datum.panel === 'trIFN'"}], "mark": {"type": "rect", "fillOpacity": 0, "stroke": "#b5484c", "strokeWidth": 1.2}, "encoding": {"x2": {"field": "x2"}, "y2": {"field": "y2"}}},
                {"data": {"name": "gateLabels"}, "transform": [{"filter": "datum.panel === 'trIFN'"}], "mark": {"type": "text", "fontSize": 22, "baseline": "middle"}, "encoding": {"text": {"field": "label"}}}
              ]
            }
          ]
        },
        {
          "bounds": "flush",
          "spacing": 40,
          "hconcat": [
            {"width": 260, "height": 1, "data": {"values": [{"v": 0}]}, "mark": {"type": "point", "opacity": 0}},
            {
              "width": 198,
              "height": 198,
              "view": {"stroke": "#444", "strokeWidth": 1},
              "data": {"name": "ctrlIL"},
              "encoding": {
                "x": {"field": "x", "type": "quantitative", "scale": {"domain": [0, 4], "nice": false, "zero": false}, "title": null,
                  "axis": {"values": [0,0.301,0.477,0.602,0.699,0.778,0.845,0.903,0.954,1,1.301,1.477,1.602,1.699,1.778,1.845,1.903,1.954,2,2.301,2.477,2.602,2.699,2.778,2.845,2.903,2.954,3,3.301,3.477,3.602,3.699,3.778,3.845,3.903,3.954,4], "labelExpr": "datum.value % 1 === 0 ? '10' + ['⁰','¹','²','³','⁴'][datum.value] : ''", "labelFontSize": 6, "labelColor": "#222", "tickSize": 2, "tickColor": "#444", "labelPadding": 1, "domain": false, "labelFlush": false, "labelOverlap": false}},
                "y": {"field": "y", "type": "quantitative", "scale": {"domain": [0, 4], "nice": false, "zero": false}, "title": "CD56",
                  "axis": {"values": [0,0.301,0.477,0.602,0.699,0.778,0.845,0.903,0.954,1,1.301,1.477,1.602,1.699,1.778,1.845,1.903,1.954,2,2.301,2.477,2.602,2.699,2.778,2.845,2.903,2.954,3,3.301,3.477,3.602,3.699,3.778,3.845,3.903,3.954,4], "labelExpr": "datum.value % 1 === 0 ? '10' + ['⁰','¹','²','³','⁴'][datum.value] : ''", "labelFontSize": 6, "labelColor": "#222", "tickSize": 2, "tickColor": "#444", "labelPadding": 1, "domain": false, "labelAngle": 270, "labelAlign": "center", "labelBaseline": "bottom", "labelFlush": false, "labelOverlap": false, "titleFontSize": 21, "titlePadding": 10}}
              },
              "layer": [
                {"mark": {"type": "point", "shape": "square", "filled": true, "size": 4.5, "color": "#000", "opacity": 1}},
                {"data": {"name": "gates"}, "transform": [{"filter": "datum.panel === 'ctrlIL'"}], "mark": {"type": "rect", "fillOpacity": 0, "stroke": "#6f7fae", "strokeWidth": 1.2}, "encoding": {"x2": {"field": "x2"}, "y2": {"field": "y2"}}},
                {"data": {"name": "gateLabels"}, "transform": [{"filter": "datum.panel === 'ctrlIL'"}], "mark": {"type": "text", "fontSize": 22, "baseline": "middle"}, "encoding": {"text": {"field": "label"}}},
                {"data": {"values": [{"x": 0.04, "x2": 8.85, "y": -0.485}]}, "mark": {"type": "rule", "color": "#111", "strokeWidth": 1.3}, "encoding": {"x2": {"field": "x2"}}},
                {"data": {"values": [{"x": 4.44, "y": -0.93, "label": "IL-12Rβ2"}]}, "mark": {"type": "text", "fontSize": 19, "baseline": "middle"}, "encoding": {"text": {"field": "label"}}}
              ]
            },
            {
              "width": 198,
              "height": 198,
              "view": {"stroke": "#444", "strokeWidth": 1},
              "data": {"name": "trIL"},
              "encoding": {
                "x": {"field": "x", "type": "quantitative", "scale": {"domain": [0, 4], "nice": false, "zero": false}, "title": null,
                  "axis": {"values": [0,0.301,0.477,0.602,0.699,0.778,0.845,0.903,0.954,1,1.301,1.477,1.602,1.699,1.778,1.845,1.903,1.954,2,2.301,2.477,2.602,2.699,2.778,2.845,2.903,2.954,3,3.301,3.477,3.602,3.699,3.778,3.845,3.903,3.954,4], "labelExpr": "datum.value % 1 === 0 ? '10' + ['⁰','¹','²','³','⁴'][datum.value] : ''", "labelFontSize": 6, "labelColor": "#222", "tickSize": 2, "tickColor": "#444", "labelPadding": 1, "domain": false, "labelFlush": false, "labelOverlap": false}},
                "y": {"field": "y", "type": "quantitative", "scale": {"domain": [0, 4], "nice": false, "zero": false}, "title": null,
                  "axis": {"values": [0,0.301,0.477,0.602,0.699,0.778,0.845,0.903,0.954,1,1.301,1.477,1.602,1.699,1.778,1.845,1.903,1.954,2,2.301,2.477,2.602,2.699,2.778,2.845,2.903,2.954,3,3.301,3.477,3.602,3.699,3.778,3.845,3.903,3.954,4], "labelExpr": "datum.value % 1 === 0 ? '10' + ['⁰','¹','²','³','⁴'][datum.value] : ''", "labelFontSize": 6, "labelColor": "#222", "tickSize": 2, "tickColor": "#444", "labelPadding": 1, "domain": false, "labelAngle": 270, "labelAlign": "center", "labelBaseline": "bottom", "labelFlush": false, "labelOverlap": false}}
              },
              "layer": [
                {"mark": {"type": "point", "shape": "square", "filled": true, "size": 4.5, "color": "#000", "opacity": 1}},
                {"data": {"name": "gates"}, "transform": [{"filter": "datum.panel === 'trIL'"}], "mark": {"type": "rect", "fillOpacity": 0, "stroke": "#b5484c", "strokeWidth": 1.2}, "encoding": {"x2": {"field": "x2"}, "y2": {"field": "y2"}}},
                {"data": {"name": "gateLabels"}, "transform": [{"filter": "datum.panel === 'trIL'"}], "mark": {"type": "text", "fontSize": 22, "baseline": "middle"}, "encoding": {"text": {"field": "label"}}}
              ]
            }
          ]
        }
      ]
    },
    {
      "bounds": "flush",
      "spacing": 0,
      "hconcat": [
        {"width": 57, "height": 1, "data": {"values": [{"v": 0}]}, "mark": {"type": "point", "opacity": 0}},
        {
          "width": 117,
          "height": 201,
          "title": {"text": "B", "anchor": "start", "frame": "group", "dx": -99, "fontSize": 15, "fontWeight": "bold", "offset": 3},
          "encoding": {
            "x": {"field": "pos", "type": "quantitative", "scale": {"domain": [0.51, 2.507], "nice": false, "zero": false}, "title": null,
              "axis": {"values": [1, 2], "labelExpr": "datum.value === 1 ? 'c' : 't'", "ticks": false, "offset": 22, "domainColor": "#222", "domainWidth": 1.3, "labelFontSize": 24, "labelPadding": 9}},
            "y": {"field": "val", "type": "quantitative", "scale": {"domain": [0, 50], "nice": false}, "title": "IFN-γ⁺ [%]",
              "axis": {"values": [0, 10, 20, 30, 40, 50], "offset": 21, "tickSize": 7, "tickWidth": 1.3, "domainWidth": 1.3, "domainColor": "#222", "tickColor": "#222", "labelFontSize": 17, "labelPadding": 6, "titleFontSize": 20, "titlePadding": 20}}
          },
          "layer": [
            {"data": {"name": "bDots"}, "mark": {"type": "circle", "size": 42, "opacity": 1}, "encoding": {"color": {"field": "group", "type": "nominal", "scale": {"domain": ["c", "t"], "range": ["#0d1a8a", "#8c0a0a"]}, "legend": null}}},
            {"data": {"name": "bStats"}, "mark": {"type": "rule", "color": "#111", "strokeWidth": 1.3}, "encoding": {"y": {"field": "q1", "type": "quantitative"}, "y2": {"field": "q3"}}},
            {"data": {"name": "bStats"}, "mark": {"type": "tick", "orient": "horizontal", "color": "#111", "size": 40, "thickness": 1.3, "opacity": 1}, "encoding": {"y": {"field": "median", "type": "quantitative"}}},
            {"data": {"name": "bStats"}, "mark": {"type": "tick", "orient": "horizontal", "color": "#111", "size": 21, "thickness": 1.3, "opacity": 1}, "encoding": {"y": {"field": "q1", "type": "quantitative"}}},
            {"data": {"name": "bStats"}, "mark": {"type": "tick", "orient": "horizontal", "color": "#111", "size": 21, "thickness": 1.3, "opacity": 1}, "encoding": {"y": {"field": "q3", "type": "quantitative"}}},
            {"data": {"values": [{"pos": 1.02, "pos2": 1.96, "val": 47.3}]}, "mark": {"type": "rule", "color": "#111", "strokeWidth": 1.3}, "encoding": {"x2": {"field": "pos2"}}},
            {"data": {"values": [{"pos": 1.47, "val": 49.6, "label": "**"}]}, "mark": {"type": "text", "fontSize": 20, "baseline": "middle"}, "encoding": {"text": {"field": "label"}}}
          ]
        },
        {"width": 202, "height": 1, "data": {"values": [{"v": 0}]}, "mark": {"type": "point", "opacity": 0}},
        {
          "width": 119,
          "height": 206,
          "title": {"text": "C", "anchor": "start", "frame": "group", "dx": -79, "fontSize": 15, "fontWeight": "bold", "offset": 3},
          "encoding": {
            "x": {"field": "pos", "type": "quantitative", "scale": {"domain": [0.497, 2.49], "nice": false, "zero": false}, "title": null,
              "axis": {"values": [1, 2], "labelExpr": "datum.value === 1 ? 'c' : 't'", "ticks": false, "offset": 22, "domainColor": "#222", "domainWidth": 1.3, "labelFontSize": 24, "labelPadding": 10}},
            "y": {"field": "val", "type": "quantitative", "scale": {"domain": [0, 60], "nice": false}, "title": "IL-12Rβ2⁺ [%]",
              "axis": {"values": [0, 20, 40, 60], "offset": 22, "tickSize": 7, "tickWidth": 1.3, "domainWidth": 1.3, "domainColor": "#222", "tickColor": "#222", "labelFontSize": 17, "labelPadding": 6, "titleFontSize": 20, "titlePadding": 18}}
          },
          "layer": [
            {"data": {"name": "cDots"}, "mark": {"type": "circle", "size": 42, "opacity": 1}, "encoding": {"color": {"field": "group", "type": "nominal", "scale": {"domain": ["c", "t"], "range": ["#0d1a8a", "#8c0a0a"]}, "legend": null}}},
            {"data": {"name": "cStats"}, "mark": {"type": "rule", "color": "#111", "strokeWidth": 1.3}, "encoding": {"y": {"field": "q1", "type": "quantitative"}, "y2": {"field": "q3"}}},
            {"data": {"name": "cStats"}, "mark": {"type": "tick", "orient": "horizontal", "color": "#111", "size": 40, "thickness": 1.3, "opacity": 1}, "encoding": {"y": {"field": "median", "type": "quantitative"}}},
            {"data": {"name": "cStats"}, "mark": {"type": "tick", "orient": "horizontal", "color": "#111", "size": 21, "thickness": 1.3, "opacity": 1}, "encoding": {"y": {"field": "q1", "type": "quantitative"}}},
            {"data": {"name": "cStats"}, "mark": {"type": "tick", "orient": "horizontal", "color": "#111", "size": 21, "thickness": 1.3, "opacity": 1}, "encoding": {"y": {"field": "q3", "type": "quantitative"}}}
          ]
        },
        {"width": 162, "height": 1, "data": {"values": [{"v": 0}]}, "mark": {"type": "point", "opacity": 0}},
        {
          "bounds": "flush",
          "spacing": 4,
          "vconcat": [
            {"width": 1, "height": 1, "data": {"values": [{"v": 0}]}, "mark": {"type": "point", "opacity": 0}},
            {
              "width": 290,
              "height": 209,
              "title": {"text": "D", "anchor": "start", "frame": "group", "dx": -52, "fontSize": 15, "fontWeight": "bold", "offset": 11},
              "encoding": {
                "x": {"field": "il", "type": "quantitative", "scale": {"domain": [0, 60], "nice": false}, "title": "IL-12Rβ2⁺ [%]",
                  "axis": {"values": [0, 20, 40, 60], "tickSize": 5, "tickWidth": 1.3, "domainWidth": 1.3, "domainColor": "#222", "tickColor": "#222", "labelFontSize": 15, "labelPadding": 3, "labelFlush": false, "titleFontSize": 19, "titlePadding": 10}},
                "y": {"field": "ifn", "type": "quantitative", "scale": {"domain": [0, 50], "nice": false}, "title": "IFN-γ⁺ [%]",
                  "axis": {"values": [0, 10, 20, 30, 40, 50], "tickSize": 5, "tickWidth": 1.3, "domainWidth": 1.3, "domainColor": "#222", "tickColor": "#222", "labelFontSize": 15, "labelPadding": 3, "titleFontSize": 20, "titlePadding": 13}}
              },
              "layer": [
                {"data": {"name": "dDots"}, "mark": {"type": "circle", "size": 36, "color": "#555", "opacity": 1}},
                {"data": {"values": [{"il": 3.3, "ifn": 48.6, "label": "r  = 0.61"}, {"il": 3.3, "ifn": 42.8, "label": "p < 0.001"}]}, "mark": {"type": "text", "align": "left", "baseline": "middle", "fontSize": 19}, "encoding": {"text": {"field": "label"}}}
              ]
            }
          ]
        }
      ]
    }
  ]
}
